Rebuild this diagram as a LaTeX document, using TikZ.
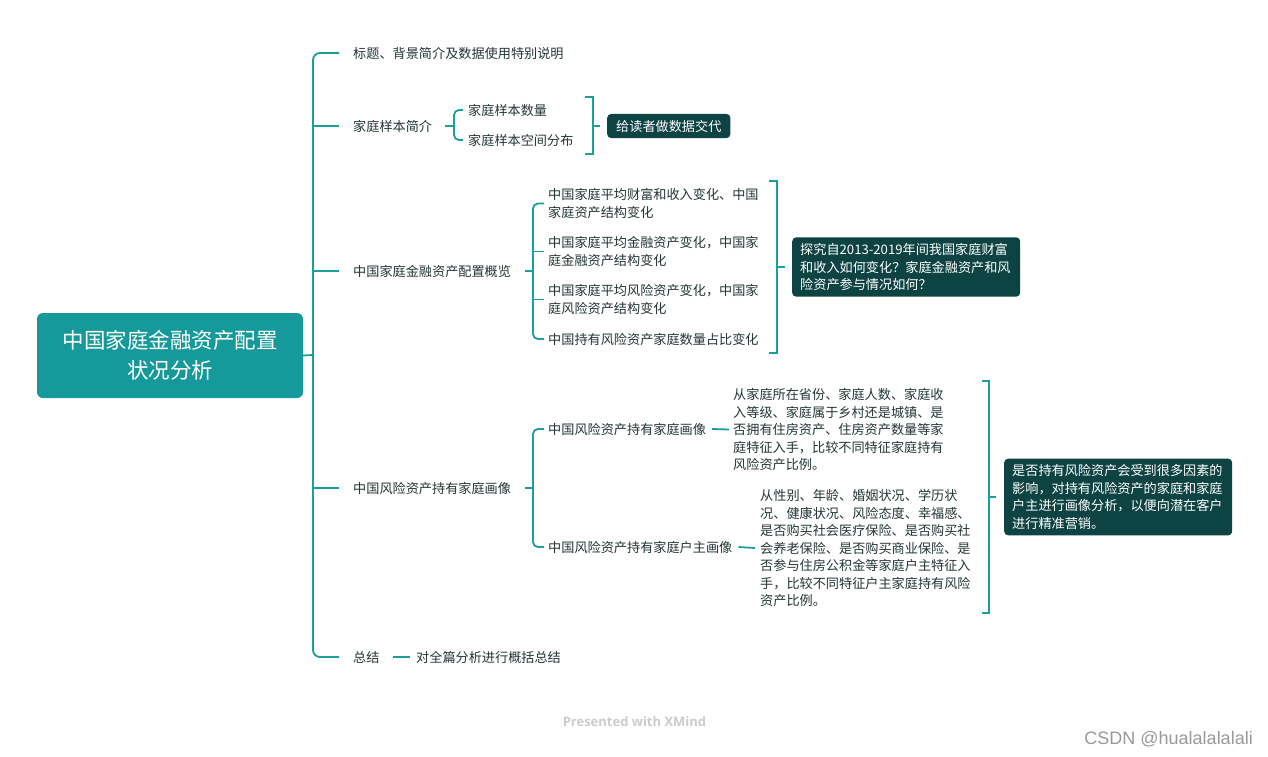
\documentclass[tikz,border=0pt]{standalone}
\usepackage{fontspec}
\setmainfont{Noto Sans CJK SC}
\newfontfamily\wmfont{Open Sans}
\newfontfamily\csdnfont{Liberation Sans}
\usetikzlibrary{calc}
\definecolor{rootcol}{HTML}{16999A}
\definecolor{conncol}{HTML}{1A9E9E}
\definecolor{darkbox}{HTML}{0E4343}
\definecolor{txt}{HTML}{253535}
\tikzset{
  conn/.style={draw=conncol, line width=1.8pt},
  lab/.style={text=txt, font=\fontsize{13.15}{17.5}\selectfont, inner sep=0pt, anchor=west, align=left},
  dbox/.style={fill=darkbox, rounded corners=4pt, text=white, font=\fontsize{13.15}{17.5}\selectfont, align=left, anchor=west, inner xsep=8pt, inner ysep=6pt},
}
\begin{document}
\begin{tikzpicture}[x=1pt,y=-1pt]
\useasboundingbox (0,0) rectangle (1268,756);
\fill[white] (0,0) rectangle (1268,756);

% root
\node[fill=rootcol, rounded corners=6pt, text=white, font=\fontsize{21.5}{30}\selectfont, align=center, minimum width=266pt, minimum height=85pt, inner sep=0pt] (root) at (170,355.5) {中国家庭金融资产配置\\状况分析};

% level 1
\node[lab] (l1) at (353,53) {标题、背景简介及数据使用特别说明};
\node[lab] (l2) at (353,126) {家庭样本简介};
\node[lab] (l3) at (353,271) {中国家庭金融资产配置概览};
\node[lab] (l4) at (353,488) {中国风险资产持有家庭画像};
\node[lab] (l5) at (353,657) {总结};

\coordinate (sp) at (313,355);
\draw[conn, rounded corners=7pt] ([xshift=-14pt]l1.west) -| (sp) |- ([xshift=-14pt]l5.west);
\foreach \n in {l2,l3,l4} \draw[conn] (sp |- \n.west) -- ([xshift=-14pt]\n.west);
\draw[conn] (root.east) -- (sp);

% sample
\node[lab] (s1) at (468,110) {家庭样本数量};
\node[lab] (s2) at (468,140) {家庭样本空间分布};
\coordinate (j2) at (454,126);
\draw[conn] ([xshift=13pt]l2.east) -- (j2);
\draw[conn, rounded corners=5pt] ([xshift=-5pt]s1.west) -| (j2) |- ([xshift=-5pt]s2.west);
\node[dbox, inner xsep=9pt] (sum1) at (607,126) {给读者做数据交代};
\coordinate (b1t) at (585,97);
\coordinate (b1b) at (585,154);
\draw[conn] (b1t) -- ++(8,0) coordinate (b1tr) -- (b1tr |- b1b) -- (b1b);
\draw[conn] (b1tr |- sum1.west) -- ([xshift=-7pt]sum1.west);

% overview
\node[lab] (c1) at (548,203.5) {中国家庭平均财富和收入变化、中国\\家庭资产结构变化};
\node[lab] (c2) at (548,251.5) {中国家庭平均金融资产变化，中国家\\庭金融资产结构变化};
\node[lab] (c3) at (548,299.5) {中国家庭平均风险资产变化，中国家\\庭风险资产结构变化};
\node[lab] (c4) at (548,339) {中国持有风险资产家庭数量占比变化};
\coordinate (j3) at (533,271);
\draw[conn] ([xshift=14pt]l3.east) -- (j3);
\draw[conn, rounded corners=5pt] ([xshift=-4pt]c1.west) -| (j3) |- ([xshift=-4pt]c4.west);
\foreach \n in {c2,c3} \draw[conn] (j3 |- \n.west) -- ([xshift=-4pt]\n.west);
\node[dbox, text width=212pt] (sum2) at (792,267) {探究自2013-2019年间我国家庭财富\\和收入如何变化？家庭金融资产和风\\险资产参与情况如何？};
\coordinate (b2t) at (769,181);
\coordinate (b2b) at (769,353);
\draw[conn] (b2t) -- ++(8,0) coordinate (b2tr) -- (b2tr |- b2b) -- (b2b);
\draw[conn] (b2tr |- sum2.west) -- ([xshift=-7pt]sum2.west);

% risk portrait
\node[lab] (r1) at (548,429) {中国风险资产持有家庭画像};
\node[lab] (r2) at (548,547) {中国风险资产持有家庭户主画像};
\coordinate (j4) at (533,488);
\draw[conn] ([xshift=14pt]l4.east) -- (j4);
\draw[conn, rounded corners=5pt] ([xshift=-4pt]r1.west) -| (j4) |- ([xshift=-4pt]r2.west);
\node[lab] (d1) at (733,429.5) {从家庭所在省份、家庭人数、家庭收\\入等级、家庭属于乡村还是城镇、是\\否拥有住房资产、住房资产数量等家\\庭特征入手，比较不同特征家庭持有\\风险资产比例。};
\node[lab] (d2) at (760,548) {从性别、年龄、婚姻状况、学历状\\况、健康状况、风险态度、幸福感、\\是否购买社会医疗保险、是否购买社\\会养老保险、是否购买商业保险、是\\否参与住房公积金等家庭户主特征入\\手，比较不同特征户主家庭持有风险\\资产比例。};
\draw[conn] ([xshift=6pt]r1.east) -- ([xshift=-4pt]d1.west);
\draw[conn] ([xshift=6pt]r2.east) -- ([xshift=-5pt]d2.west);
\node[dbox, text width=212pt] (sum3) at (1004,497) {是否持有风险资产会受到很多因素的\\影响，对持有风险资产的家庭和家庭\\户主进行画像分析，以便向潜在客户\\进行精准营销。};
\coordinate (b3t) at (982,381);
\coordinate (b3b) at (982,613);
\draw[conn] (b3t) -- ++(7,0) coordinate (b3tr) -- (b3tr |- b3b) -- (b3b);
\draw[conn] (b3tr |- sum3.west) -- ([xshift=-8pt]sum3.west);

% summary
\node[lab] (t5) at (416,657) {对全篇分析进行概括总结};
\draw[conn] ([xshift=13pt]l5.east) -- ([xshift=-6pt]t5.west);

% watermarks
\node[text=black!20, font=\wmfont\bfseries\fontsize{13}{15}\selectfont, inner sep=0pt] (wm) at (634.5,722) {Presented with XMind};
\node[text=black!40, font=\csdnfont\fontsize{18}{20}\selectfont, inner sep=0pt, anchor=east] (csdn) at (1253,739) {CSDN @hualalalalali};
\end{tikzpicture}
\end{document}
